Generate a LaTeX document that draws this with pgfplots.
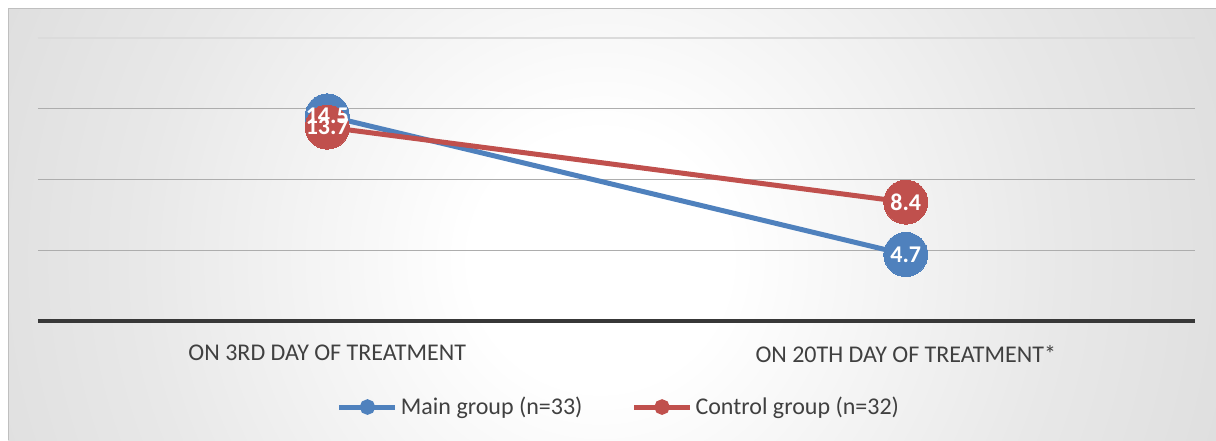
\documentclass[border=0pt]{standalone}
\usepackage{pgfplots}
\pgfplotsset{compat=1.18}
\usepackage{fontspec}
\setmainfont{Carlito}
\definecolor{mblue}{HTML}{4F81BD}
\definecolor{mred}{HTML}{C0504D}
\pgfdeclareradialshading{bgshade}{\pgfpoint{0bp}{0bp}}{color(0bp)=(white); color(5bp)=(white); color(18bp)=(black!9); color(38bp)=(black!19); color(50bp)=(black!25)}
\begin{document}
\begin{tikzpicture}[x=1pt,y=1pt]
\useasboundingbox (0,0) rectangle (608,220);
\begin{scope}
\clip (4,0) rectangle (608,215.5);
\shade[shading=bgshade] (-20,-230) rectangle (620,410);
\end{scope}
\draw[black!25, line width=0.5pt] (4,0) -- (4,215.5) -- (608,215.5);
\begin{axis}[
  at={(19pt,59.5pt)}, anchor=south west, scale only axis,
  width=578.5pt, height=141.5pt,
  xmin=-0.5, xmax=1.5, ymin=0, ymax=20,
  axis x line*=bottom, axis y line*=left,
  x axis line style={-, line width=1.8pt, draw=black!78},
  y axis line style={draw=none},
  xtick={0,1},
  xticklabels={ON 3RD DAY OF TREATMENT, ON 20TH DAY OF TREATMENT*},
  xtick style={draw=none},
  xticklabel style={anchor=north, inner sep=0pt, yshift=-12pt, font=\fontsize{12}{14}\selectfont, text=black!75},
  ytick={5,10,15}, yticklabels={}, ytick style={draw=none},
  ymajorgrids, grid style={black!32, line width=0.6pt},
  extra y ticks={20}, extra y tick labels={},
  extra y tick style={grid style={black!14, line width=0.6pt}},
  clip=false,
  legend columns=2,
  legend style={at={(0.5026,-0.304)}, anchor=center, draw=none, fill=none,
    font=\fontsize{12}{14}\selectfont, text=black!75,
    nodes={inner xsep=1.5pt},
    /tikz/every even column/.append style={column sep=23pt}},
  legend image code/.code={\draw[line width=2.5pt, mark=none] (0pt,0pt) -- (28pt,0pt); \fill (14pt,0pt) circle (2.6pt);},
]
\addplot[mblue, line width=2.5pt, mark=*, mark size=11pt, mark options={solid, fill=mblue, draw=mblue, line width=0pt}] coordinates {(0,14.5) (1,4.7)};
\addlegendentry{Main group (n=33)}
\addplot[mred, line width=2.5pt, mark=*, mark size=11pt, mark options={solid, fill=mred, draw=mred, line width=0pt}] coordinates {(0,13.7) (1,8.4)};
\addlegendentry{Control group (n=32)}
\addplot[draw=none, mark=none, forget plot, nodes near coords, point meta=y,
  /pgf/number format/fixed, /pgf/number format/fixed zerofill, /pgf/number format/precision=1,
  /pgf/number format/assume math mode=true,
  nodes near coords style={anchor=center, text=white, inner sep=0pt, font=\fontsize{12}{14}\selectfont\bfseries}]
  coordinates {(0,14.5) (1,4.7) (0,13.7) (1,8.4)};
\end{axis}
\end{tikzpicture}
\end{document}
